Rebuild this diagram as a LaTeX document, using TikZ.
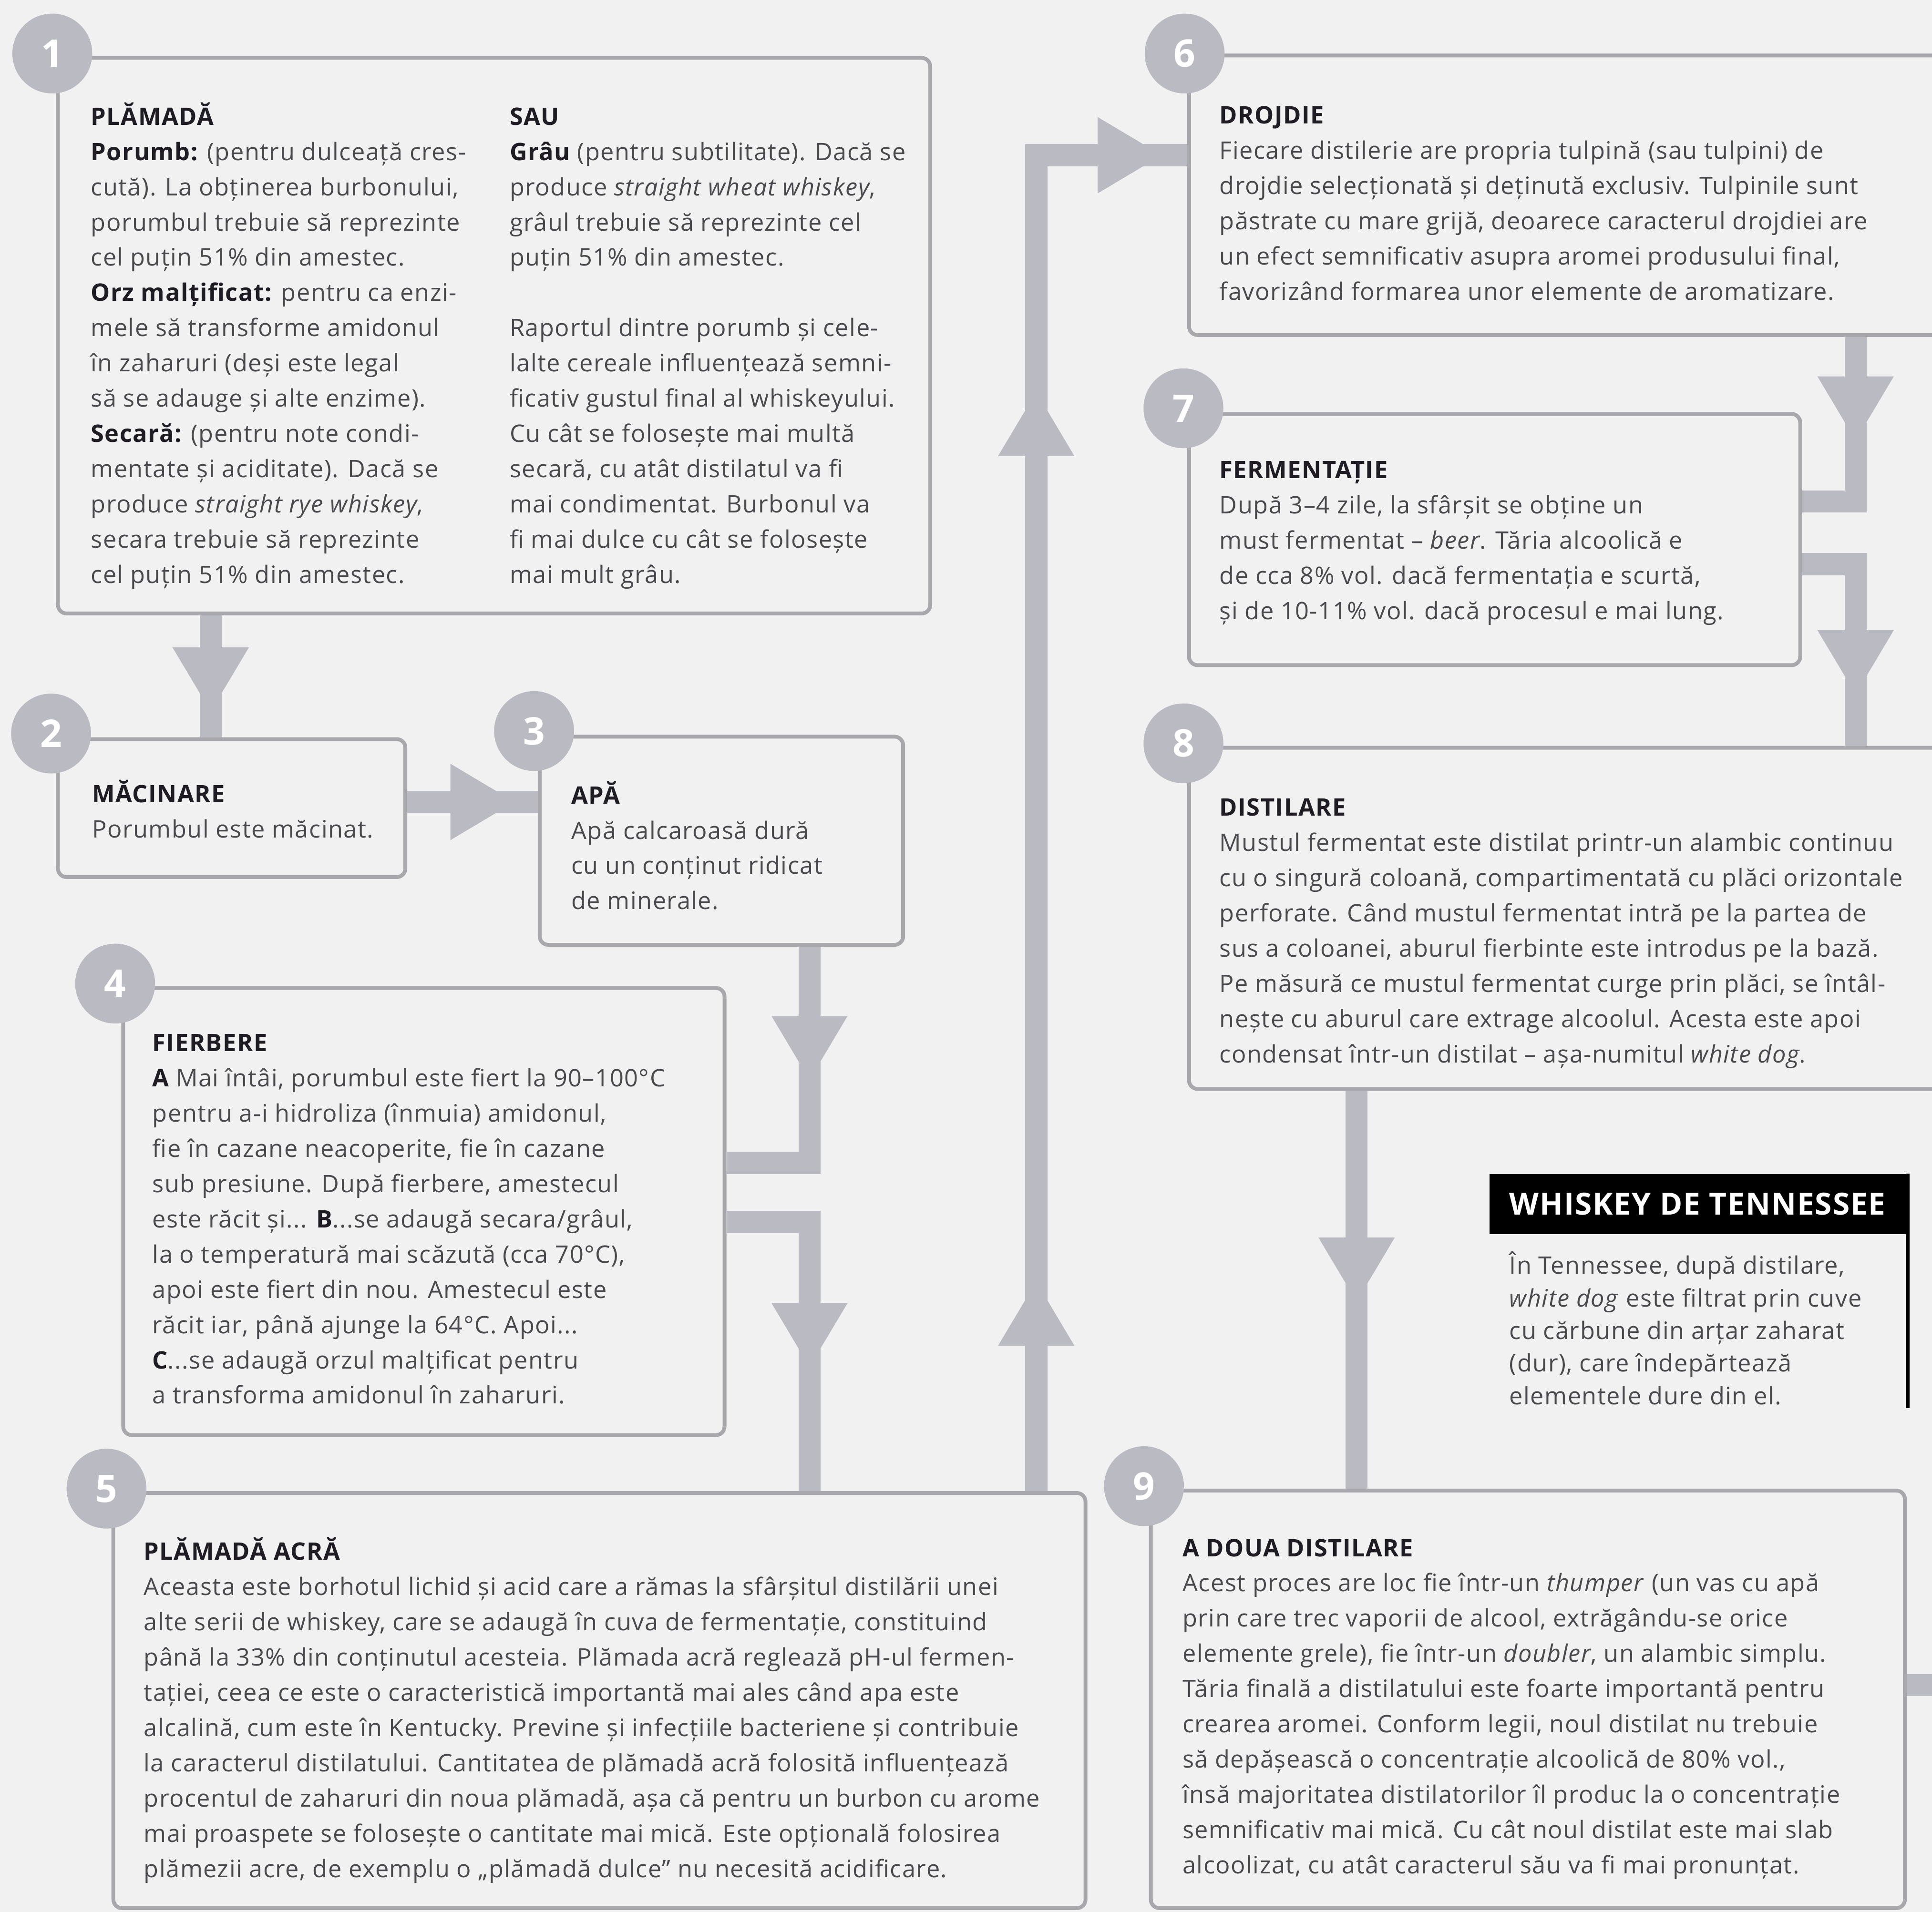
\documentclass[tikz,border=0pt]{standalone}
\usepackage{fontspec}
\setmainfont{Open Sans}[LetterSpace=3]
\usetikzlibrary{fit,decorations.markings}
\definecolor{paper}{RGB}{241,241,241}
\definecolor{rope}{RGB}{168,168,172}
\definecolor{hatch}{RGB}{186,186,194}
\definecolor{ink}{RGB}{74,74,78}
\definecolor{headink}{RGB}{32,28,36}
\newcommand{\bodyfont}{\fontsize{13.9}{20.35}\selectfont}
\newcommand{\tennfont}{\fontsize{13.9}{18.8}\selectfont}
\newcommand{\boxtext}[1]{\begin{tabular}[t]{@{}l@{}}#1\end{tabular}}
\newcommand{\kw}[1]{{\color{headink}\bfseries #1}}
\tikzset{
  stepframe/.style={draw=rope, line width=2.2pt, rounded corners=5pt, inner sep=0pt},
  badge/.style={circle, fill=hatch, minimum size=1.62cm, inner sep=0pt, text=white,
    font=\bfseries\fontsize{22}{22}\selectfont},
  txt/.style={anchor=base west, inner sep=0pt, text=ink, font=\bodyfont},
  flow/.style={draw=hatch, line width=12.8pt},
  midhead/.style={postaction={decorate, decoration={markings,
    mark=at position #1 with {\fill[hatch] (0,-31) -- (52,0) -- (0,31) -- cycle;}}}},
  titlebar/.style={fill=black, inner sep=0pt},
}
\begin{document}
\begin{tikzpicture}[x=0.025cm, y=-0.025cm]
\useasboundingbox (0,0) rectangle (1568,1552);
\clip (0,0) rectangle (1568,1552);
\fill[paper] (0,0) rectangle (1568,1552);

\node[stepframe, fit={(47,47) (755,498)}] (b1) {};
\node[stepframe, fit={(47,600) (329,712)}] (b2) {};
\node[stepframe, fit={(438,598) (733,767)}] (b3) {};
\node[stepframe, fit={(100,802) (588,1165)}] (b4) {};
\node[stepframe, fit={(92,1212) (881,1549)}] (b5) {};
\node[stepframe, fit={(965,45) (1600,272)}] (b6) {};
\node[stepframe, fit={(965,336) (1461,540)}] (b7) {};
\node[stepframe, fit={(965,607) (1600,884)}] (b8) {};
\node[stepframe, fit={(934,1210) (1546,1549)}] (b9) {};

\coordinate (k12) at (171,0);
\coordinate (k23) at (0,651);
\coordinate (k34) at (657,944);
\coordinate (k45) at (657,992);
\coordinate (k56) at (841,126);
\coordinate (k67) at (1506,407);
\coordinate (k78) at (1506,458);
\coordinate (k89) at (1101,0);
\coordinate (k9x) at (1580,1368);

\draw[flow, midhead=0.65cm] (b1.south -| k12) -- (b2.north -| k12);
\draw[flow, midhead=0.875cm] (b2.east |- k23) -- (b3.west |- k23);
\draw[flow, midhead=1.4cm] (b3.south -| k34) -- (k34) -- (b4.east |- k34);
\draw[flow, midhead=3.325cm] (b4.east |- k45) -- (k45) -- (b5.north -| k45);
\draw[flow, midhead=2.95cm, midhead=21cm, midhead=28.35cm] (b5.north -| k56) -- (k56) -- (b6.west |- k56);
\draw[flow, midhead=0.8cm] (b6.south -| k67) -- (k67) -- (b7.east |- k67);
\draw[flow, midhead=2.425cm] (b7.east |- k78) -- (k78) -- (b8.north -| k78);
\draw[flow, midhead=2.975cm] (b8.south -| k89) -- (b9.north -| k89);
\draw[flow] (b9.east |- k9x) -- (k9x);

\node[badge] (n1) at ([shift={(-3,-2)}]b1.north west) {1};
\node[badge] (n2) at ([shift={(-4,-3)}]b2.north west) {2};
\node[badge] (n3) at ([shift={(-3,-3)}]b3.north west) {3};
\node[badge] (n4) at ([shift={(-5,-2)}]b4.north west) {4};
\node[badge] (n5) at ([shift={(-4,-2)}]b5.north west) {5};
\node[badge] (n6) at ([shift={(-2,0)}]b6.north west) {6};
\node[badge] (n7) at ([shift={(-3,-3)}]b7.north west) {7};
\node[badge] (n8) at ([shift={(-3,-2)}]b8.north west) {8};
\node[badge] (n9) at ([shift={(-4,-2)}]b9.north west) {9};

\node[txt] (t1) at ([shift={(28,56)}]b1.north west) {\boxtext{
\kw{PLĂMADĂ}\\
\kw{Porumb:} (pentru dulceață cres-\\
cută). La obținerea burbonului,\\
porumbul trebuie să reprezinte\\
cel puțin 51\% din amestec.\\
\kw{Orz malțificat:} pentru ca enzi-\\
mele să transforme amidonul\\
în zaharuri (deși este legal\\
să se adauge și alte enzime).\\
\kw{Secară:} (pentru note condi-\\
mentate și aciditate). Dacă se\\
produce \textit{straight rye whiskey},\\
secara trebuie să reprezinte\\
cel puțin 51\% din amestec.}};
\node[txt] (t1b) at ([shift={(368,56)}]b1.north west) {\boxtext{
\kw{SAU}\\
\kw{Grâu} (pentru subtilitate). Dacă se\\
produce \textit{straight wheat whiskey},\\
grâul trebuie să reprezinte cel\\
puțin 51\% din amestec.\\
\\
Raportul dintre porumb și cele-\\
lalte cereale influențează semni-\\
ficativ gustul final al whiskeyului.\\
Cu cât se folosește mai multă\\
secară, cu atât distilatul va fi\\
mai condimentat. Burbonul va\\
fi mai dulce cu cât se folosește\\
mai mult grâu.}};
\node[txt] (t2) at ([shift={(29,53)}]b2.north west) {\boxtext{
\kw{MĂCINARE}\\
Porumbul este măcinat.}};
\node[txt] (t3) at ([shift={(27,56)}]b3.north west) {\boxtext{
\kw{APĂ}\\
Apă calcaroasă dură\\
cu un conținut ridicat\\
de minerale.}};
\node[txt] (t4) at ([shift={(25,53)}]b4.north west) {\boxtext{
\kw{FIERBERE}\\
\kw{A} Mai întâi, porumbul este fiert la 90–100°C\\
pentru a-i hidroliza (înmuia) amidonul,\\
fie în cazane neacoperite, fie în cazane\\
sub presiune. După fierbere, amestecul\\
este răcit și... \kw{B}...se adaugă secara/grâul,\\
la o temperatură mai scăzută (cca 70°C),\\
apoi este fiert din nou. Amestecul este\\
răcit iar, până ajunge la 64°C. Apoi...\\
\kw{C}...se adaugă orzul malțificat pentru\\
a transforma amidonul în zaharuri.}};
\node[txt] (t5) at ([shift={(26,56)}]b5.north west) {\boxtext{
\kw{PLĂMADĂ ACRĂ}\\
Aceasta este borhotul lichid și acid care a rămas la sfârșitul distilării unei\\
alte serii de whiskey, care se adaugă în cuva de fermentație, constituind\\
până la 33\% din conținutul acesteia. Plămada acră reglează pH-ul fermen-\\
tației, ceea ce este o caracteristică importantă mai ales când apa este\\
alcalină, cum este în Kentucky. Previne și infecțiile bacteriene și contribuie\\
la caracterul distilatului. Cantitatea de plămadă acră folosită influențează\\
procentul de zaharuri din noua plămadă, așa că pentru un burbon cu arome\\
mai proaspete se folosește o cantitate mai mică. Este opțională folosirea\\
plămezii acre, de exemplu o „plămadă dulce” nu necesită acidificare.}};
\node[txt] (t6) at ([shift={(26,57)}]b6.north west) {\boxtext{
\kw{DROJDIE}\\
Fiecare distilerie are propria tulpină (sau tulpini) de\\
drojdie selecționată și deținută exclusiv. Tulpinile sunt\\
păstrate cu mare grijă, deoarece caracterul drojdiei are\\
un efect semnificativ asupra aromei produsului final,\\
favorizând formarea unor elemente de aromatizare.}};
\node[txt] (t7) at ([shift={(26,54)}]b7.north west) {\boxtext{
\kw{FERMENTAȚIE}\\
După 3–4 zile, la sfârșit se obține un\\
must fermentat – \textit{beer}. Tăria alcoolică e\\
de cca 8\% vol. dacă fermentația e scurtă,\\
și de 10-11\% vol. dacă procesul e mai lung.}};
\node[txt] (t8) at ([shift={(26,57)}]b8.north west) {\boxtext{
\kw{DISTILARE}\\
Mustul fermentat este distilat printr-un alambic continuu\\
cu o singură coloană, compartimentată cu plăci orizontale\\
perforate. Când mustul fermentat intră pe la partea de\\
sus a coloanei, aburul fierbinte este introdus pe la bază.\\
Pe măsură ce mustul fermentat curge prin plăci, se întâl-\\
nește cu aburul care extrage alcoolul. Acesta este apoi\\
condensat într-un distilat – așa-numitul \textit{white dog}.}};
\node[txt] (t9) at ([shift={(27,55)}]b9.north west) {\boxtext{
\kw{A DOUA DISTILARE}\\
Acest proces are loc fie într-un \textit{thumper} (un vas cu apă\\
prin care trec vaporii de alcool, extrăgându-se orice\\
elemente grele), fie într-un \textit{doubler}, un alambic simplu.\\
Tăria finală a distilatului este foarte importantă pentru\\
crearea aromei. Conform legii, noul distilat nu trebuie\\
să depășească o concentrație alcoolică de 80\% vol.,\\
însă majoritatea distilatorilor îl produc la o concentrație\\
semnificativ mai mică. Cu cât noul distilat este mai slab\\
alcoolizat, cu atât caracterul său va fi mai pronunțat.}};

\node[titlebar, fit={(1209,953) (1548,1002)}] (tn) {};
\node[anchor=west, inner sep=0pt, text=white, font=\bfseries\fontsize{17.6}{17.6}\selectfont]
  (tnt) at ([shift={(16,0)}]tn.west) {WHISKEY DE TENNESSEE};
\draw[black, line width=2pt] (tn.north east) -- ([shift={(0,141)}]tn.south east);
\node[txt, font=\tennfont] (tnb) at ([shift={(16,32)}]tn.south west) {\boxtext{
În Tennessee, după distilare,\\
\textit{white dog} este filtrat prin cuve\\
cu cărbune din arțar zaharat\\
(dur), care îndepărtează\\
elementele dure din el.}};
\end{tikzpicture}
\end{document}
